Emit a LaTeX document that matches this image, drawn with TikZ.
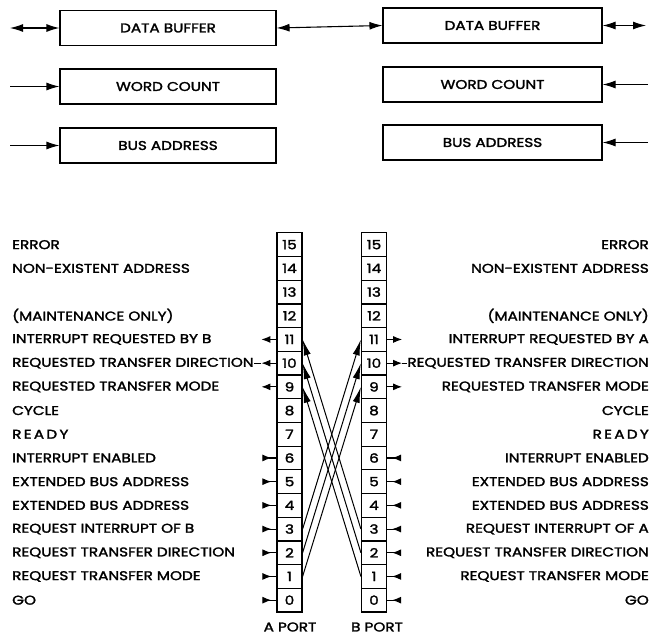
\documentclass[tikz,border=0pt]{standalone}
\usepackage{fontspec}
\setmainfont{Poppins}[FakeStretch=1.2, FakeBold=2]
\usetikzlibrary{arrows.meta,calc}
\begin{document}
\begin{tikzpicture}[x=1pt,y=-1pt,
  every node/.style={font=\fontsize{12.7}{13}\selectfont, inner sep=0pt},
  regbox/.style={draw, line width=1.1pt, minimum height=35pt},
  cell/.style={draw, line width=1.2pt, minimum width=25pt, minimum height=23.7pt, font=\fontsize{12.7}{13}\selectfont},
  lab/.style={anchor=west},
  rlab/.style={anchor=east},
  conn/.style={line width=1.1pt},
  tip/.style={-{Latex[length=13pt,width=8pt]}},
  stip/.style={-{Latex[length=9pt,width=7pt]}},
  rtip/.style={{Latex[length=9pt,width=7pt,reversed]}-},
  dtip/.style={{Latex[length=13pt,width=8pt]}-{Latex[length=13pt,width=8pt]}},
  xtip/.style={-{Latex[length=16pt,width=7pt]}, line width=1pt}]
\useasboundingbox (0,0) rectangle (650,635);
% top boxes
\node[regbox, minimum width=216pt] (LDB) at (168,28) {DATA BUFFER};
\node[regbox, minimum width=216pt] (LWC) at (168,86.5) {WORD COUNT};
\node[regbox, minimum width=216pt] (LBA) at (168,145.5) {BUS ADDRESS};
\node[regbox, minimum width=219pt] (RDB) at (492.5,25.5) {DATA BUFFER};
\node[regbox, minimum width=219pt] (RWC) at (492.5,84.5) {WORD COUNT};
\node[regbox, minimum width=219pt] (RBA) at (492.5,142.5) {BUS ADDRESS};
\coordinate (ldbL) at (10,28);
\coordinate (lwcL) at (10,86.5);
\coordinate (lbaL) at (10,145.5);
\coordinate (rdbR) at (646,25.5);
\coordinate (rwcR) at (648,84.5);
\coordinate (rbaR) at (648,142.5);
\draw[conn,dtip] (ldbL) -- (LDB.west);
\draw[conn,dtip] (LDB.east) -- (RDB.west);
\draw[conn,dtip] (RDB.east) -- (rdbR);
\draw[conn,tip] (lwcL) -- (LWC.west);
\draw[conn,tip] (lbaL) -- (LBA.west);
\draw[conn,tip] (rwcR) -- (RWC.east);
\draw[conn,tip] (rbaR) -- (RBA.east);
% registers
\foreach \k in {0,...,15}{
  \node[cell] (A\k) at (289.5,{600.15-23.7*\k}) {\k};
  \node[cell] (B\k) at (374,{600.15-23.7*\k}) {\k};
}
% labels left
\foreach \k/\t in {15/ERROR,14/NON-EXISTENT ADDRESS,12/(MAINTENANCE ONLY),11/INTERRUPT REQUESTED BY B,10/REQUESTED TRANSFER DIRECTION,9/REQUESTED TRANSFER MODE,8/CYCLE,6/INTERRUPT ENABLED,5/EXTENDED BUS ADDRESS,4/EXTENDED BUS ADDRESS,3/REQUEST INTERRUPT OF B,2/REQUEST TRANSFER DIRECTION,1/REQUEST TRANSFER MODE,0/GO}{
  \node[lab] (L\k) at (12,{600.15-23.7*\k}) {\t};
}
\node[lab] (L7) at (12,{600.15-23.7*7}) {\addfontfeatures{LetterSpace=18}READY};
% labels right
\foreach \k/\t in {15/ERROR,14/NON-EXISTENT ADDRESS,12/(MAINTENANCE ONLY),11/INTERRUPT REQUESTED BY A,10/REQUESTED TRANSFER DIRECTION,9/REQUESTED TRANSFER MODE,8/CYCLE,6/INTERRUPT ENABLED,5/EXTENDED BUS ADDRESS,4/EXTENDED BUS ADDRESS,3/REQUEST INTERRUPT OF A,2/REQUEST TRANSFER DIRECTION,1/REQUEST TRANSFER MODE,0/GO}{
  \node[rlab] (R\k) at (649,{600.15-23.7*\k}) {\t};
}
\node[rlab] (R7) at (649,{600.15-23.7*7}) {\addfontfeatures{LetterSpace=18}READY};
% output arrows (bits 9-11)
\foreach \k in {9,10,11}{
  \coordinate (aT\k) at ($(A\k.west)+(-15,0)$);
  \coordinate (bT\k) at ($(B\k.east)+(15,0)$);
  \draw[conn,stip] (A\k.west) -- (aT\k);
  \draw[conn,stip] (B\k.east) -- (bT\k);
}
\draw[conn] (aT10) -- (L10.east);
\draw[conn] (bT10) -- (R10.west);
% input arrows (bits 0-6)
\foreach \k in {0,...,6}{
  \coordinate (aI\k) at ($(A\k.west)+(-14,0)$);
  \coordinate (bI\k) at ($(B\k.east)+(14,0)$);
  \draw[conn,rtip] (aI\k) -- (A\k.west);
  \draw[conn,rtip] (bI\k) -- (B\k.east);
}
% crossing lines
\draw[xtip] (A1.east) -- (B9.west);
\draw[xtip] (A2.east) -- (B10.west);
\draw[xtip] (A3.east) -- (B11.west);
\draw[xtip] (B1.west) -- (A9.east);
\draw[xtip] (B2.west) -- (A10.east);
\draw[xtip] (B3.west) -- (A11.east);
% port labels
\node (AP) at (290,627) {A PORT};
\node (BP) at (377,627) {B PORT};
\end{tikzpicture}
\end{document}
